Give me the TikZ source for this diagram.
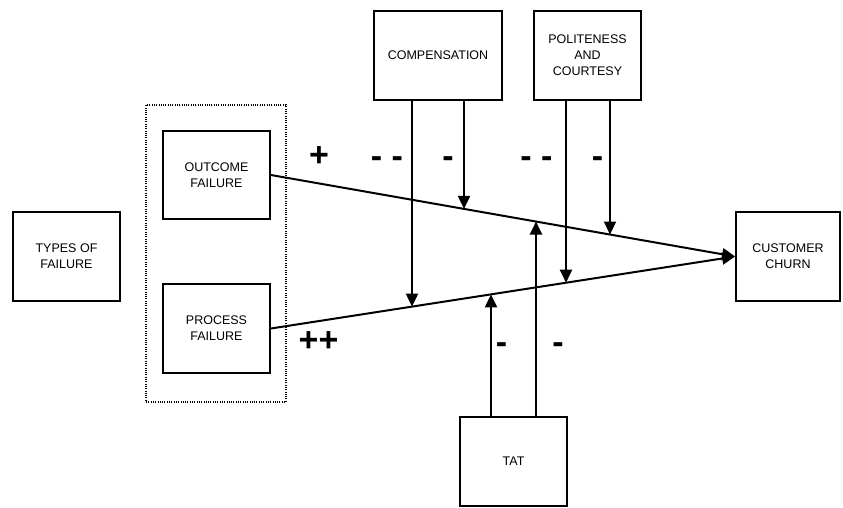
\documentclass[tikz,border=0pt]{standalone}
\usepackage{fontspec}
\setmainfont{Liberation Sans}
\usetikzlibrary{
    arrows.meta,
    calc,
    intersections
}

\tikzset{
    box/.style={draw, line width=1.8pt, minimum width=107pt,
        minimum height=89pt, align=center,
        font=\fontsize{12.5}{16}\selectfont},
    group/.style={draw, line width=1.3pt, dash pattern=on 1pt off 1.3pt,
        minimum width=140pt, minimum height=297pt},
    link/.style={line width=2pt, -{Triangle[length=13pt,width=12pt]}},
    sign/.style={font=\fontsize{34}{34}\selectfont\bfseries,
        inner sep=0pt, text height=20pt, text depth=0pt}
}

\begin{document}
\begin{tikzpicture}[x=1pt,y=1pt]

\useasboundingbox (0,0) rectangle (843,507);

% Failure types
\node[box] (types) at (66.5,250.5) {TYPES OF\\FAILURE};
\node[group] (failures) at (216,253.5) {};
\node[box, minimum height=88pt] (outcome) at (216.5,332) {OUTCOME\\FAILURE};
\node[box] (process) at (216.5,178.5) {PROCESS\\FAILURE};

% Moderators
\node[box, minimum width=128pt] (comp) at (438,451.5) {COMPENSATION};
\node[box] (polite) at (587.5,451.5) {POLITENESS\\AND\\COURTESY};
\node[box] (tat) at (513.5,45.5) {TAT};

% Outcome
\node[box, minimum width=104pt] (churn) at (788,250.5) {CUSTOMER\\CHURN};

% Main effects
\draw[link, name path=upper] (outcome.east) -- (churn.west);
\draw[link, name path=lower] (process.east) -- (churn.west);

% Moderating arrows onto the main effects
\foreach \from/\dx/\onto/\dy in {
    comp.south/-26/lower/-300,
    comp.south/26/upper/-300,
    polite.south/-21.5/lower/-300,
    polite.south/22.5/upper/-300,
    tat.north/-22.5/lower/300,
    tat.north/22.5/upper/300}{
    \path[name path=guide] ($(\from)+(\dx,0)$) -- ++(0,\dy);
    \draw[link, name intersections={of=guide and \onto, by=hit}]
        ($(\from)+(\dx,0)$) -- (hit);
}

% Signs
\node[sign] (s1) at (319,351) {+};
\node[sign] (s2) at (387,349) {- -};
\node[sign] (s3) at (448,349) {-};
\node[sign] (s4) at (536.5,349) {- -};
\node[sign] (s5) at (597.5,349) {-};
\node[sign] (s6) at (318.5,166) {++};
\node[sign] (s7) at (501.5,164) {-};
\node[sign] (s8) at (558,164) {-};

\end{tikzpicture}
\end{document}
